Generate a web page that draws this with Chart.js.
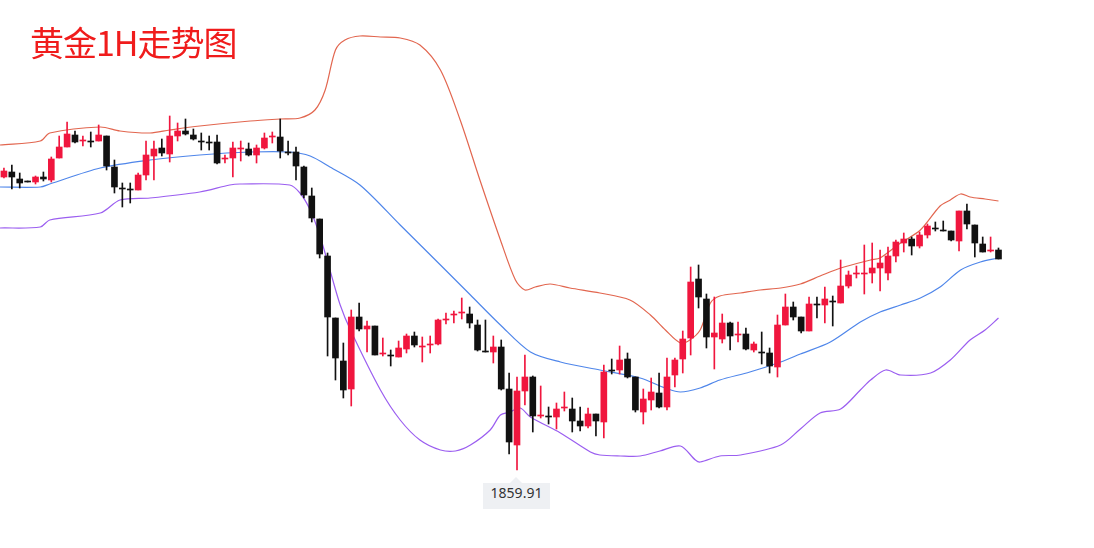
<!DOCTYPE html>
<html><head><meta charset="utf-8">
<script src="https://cdn.jsdelivr.net/npm/chart.js@4"></script>
<style>
html,body{margin:0;padding:0;background:#fff;}
#wrap{position:relative;width:1094px;height:548px;}
#title{position:absolute;left:30px;top:17px;font:34px "Noto Sans CJK SC",sans-serif;color:#f01c1c;letter-spacing:-1px;}
#lab{position:absolute;left:483px;top:483px;width:67px;height:26px;line-height:26px;text-align:center;background:#eef0f3;color:#333;font:14px "Noto Sans",sans-serif;}
#lab:before{content:"";position:absolute;left:27px;top:-6px;border-left:6px solid transparent;border-right:6px solid transparent;border-bottom:6px solid #eef0f3;}
</style></head><body>
<div id="wrap"><canvas id="c"></canvas><div id="title">黄金1H走势图</div><div id="lab">1859.91</div></div>
<script>
const open =[1889.2,1889.7,1889.0,1888.8,1888.7,1889.2,1888.9,1891.1,1892.2,1893.4,1892.8,1892.8,1892.8,1893.3,1890.2,1888.1,1888.0,1887.9,1889.4,1891.3,1892.1,1891.5,1893.3,1893.8,1893.4,1892.8,1892.7,1892.7,1891.0,1891.1,1892.0,1892.0,1891.4,1892.1,1893.2,1893.2,1891.7,1891.7,1890.2,1887.3,1885.0,1881.3,1875.1,1870.8,1868.0,1875.2,1874.0,1874.3,1871.5,1871.4,1871.2,1872.0,1873.3,1872.2,1872.4,1872.5,1874.9,1875.4,1875.6,1875.5,1874.4,1871.8,1871.7,1872.2,1868.0,1862.4,1867.8,1869.2,1865.3,1865.3,1865.2,1866.1,1866.0,1864.8,1864.3,1865.5,1864.7,1869.9,1869.9,1871.0,1869.2,1865.7,1866.9,1867.6,1866.2,1869.4,1871.0,1873.1,1879.0,1877.0,1873.2,1873.0,1874.6,1873.4,1873.5,1871.9,1871.7,1871.6,1870.2,1874.4,1876.2,1875.2,1873.8,1876.5,1876.4,1876.8,1876.6,1878.3,1879.5,1879.5,1879.6,1880.1,1879.6,1881.3,1882.6,1883.0,1882.3,1883.4,1884.1,1883.9,1883.8,1882.8,1885.8,1884.4,1882.5,1881.8,1881.9];
const high =[1890.1,1890.4,1889.6,1888.8,1889.3,1889.7,1891.2,1893.3,1894.7,1893.8,1893.3,1893.7,1894.4,1893.3,1890.9,1888.6,1888.6,1889.6,1892.8,1892.8,1893.0,1895.3,1894.6,1895.0,1894.0,1893.6,1893.3,1893.4,1891.4,1892.7,1892.8,1892.6,1892.4,1893.6,1893.7,1895.0,1892.8,1892.2,1890.3,1888.1,1885.0,1881.6,1875.1,1872.6,1875.9,1876.6,1874.8,1874.3,1873.1,1871.9,1872.8,1873.5,1873.7,1873.2,1873.3,1875.0,1875.6,1875.8,1877.1,1876.2,1874.9,1874.9,1873.3,1872.9,1869.6,1869.2,1871.4,1869.3,1868.3,1866.2,1866.6,1867.7,1867.1,1866.2,1866.1,1865.5,1870.4,1871.0,1872.3,1871.6,1869.2,1868.0,1869.1,1869.6,1871.1,1871.1,1873.8,1880.2,1880.4,1877.5,1877.2,1875.5,1874.7,1874.7,1874.1,1872.7,1873.7,1872.1,1875.4,1877.5,1876.7,1875.2,1877.2,1877.2,1878.2,1877.3,1880.9,1879.8,1880.3,1882.4,1882.6,1881.9,1882.2,1882.9,1883.6,1883.2,1883.7,1884.5,1884.7,1884.8,1883.8,1885.8,1886.5,1884.4,1883.2,1883.2,1882.1];
const low  =[1889.1,1888.0,1888.1,1888.7,1888.5,1888.8,1888.7,1891.1,1892.2,1892.6,1892.3,1892.2,1892.8,1889.9,1887.6,1886.2,1886.6,1887.9,1888.9,1888.9,1891.3,1890.7,1892.8,1893.4,1892.9,1891.9,1891.9,1890.5,1890.6,1889.2,1890.8,1891.3,1890.6,1892.0,1892.6,1891.1,1891.4,1888.9,1887.1,1884.7,1881.1,1871.3,1868.9,1867.1,1866.3,1873.8,1871.7,1871.4,1871.3,1870.3,1871.2,1871.6,1872.2,1870.7,1871.6,1872.4,1874.5,1874.6,1875.0,1874.1,1871.8,1871.7,1870.6,1867.9,1861.5,1859.91,1866.4,1863.7,1865.1,1864.5,1864.0,1865.8,1863.7,1863.8,1864.1,1863.3,1863.1,1869.5,1869.5,1869.1,1865.7,1864.5,1865.9,1866.1,1865.9,1868.2,1869.6,1871.4,1876.1,1872.1,1870.0,1872.6,1871.9,1872.7,1871.9,1871.7,1870.5,1869.6,1869.2,1874.4,1874.9,1873.6,1873.8,1875.1,1874.6,1874.3,1876.6,1878.1,1879.1,1877.5,1878.6,1877.8,1878.9,1880.7,1881.7,1881.4,1882.1,1883.1,1883.8,1883.8,1882.8,1881.8,1884.0,1881.2,1881.7,1881.7,1881.0];
const close=[1889.8,1889.2,1888.6,1888.7,1889.2,1889.0,1891.0,1892.2,1893.5,1892.7,1892.9,1892.7,1893.4,1890.3,1888.2,1888.0,1887.9,1889.4,1891.4,1892.0,1891.6,1893.3,1893.8,1893.5,1893.0,1892.7,1892.6,1890.6,1891.1,1892.1,1892.1,1891.4,1892.1,1893.1,1893.3,1891.8,1891.6,1890.3,1887.4,1885.1,1881.5,1875.2,1871.1,1867.9,1875.2,1874.0,1874.3,1871.4,1871.6,1871.3,1872.1,1873.3,1872.4,1872.3,1872.5,1874.9,1875.0,1875.5,1875.7,1874.6,1871.9,1871.7,1872.2,1868.0,1862.7,1867.8,1869.2,1865.3,1865.4,1865.2,1866.0,1866.2,1864.8,1864.3,1865.5,1864.8,1869.7,1869.8,1870.9,1869.2,1865.9,1867.0,1867.7,1866.2,1869.2,1870.9,1873.0,1878.7,1877.2,1873.2,1873.6,1874.6,1873.3,1873.5,1872.0,1872.5,1871.6,1870.3,1874.4,1876.2,1875.2,1873.8,1876.5,1876.4,1877.0,1876.7,1878.3,1879.4,1879.6,1879.6,1880.1,1880.6,1881.3,1882.7,1883.0,1882.3,1883.4,1884.3,1884.0,1883.8,1882.9,1885.8,1884.5,1882.6,1881.7,1881.9,1881.0];
const upperBand=[[-0.5,1892.4],[4.6,1892.8],[5.8,1893.6],[12.2,1894.2],[14.7,1893.8],[18.5,1893.6],[21,1893.9],[24.8,1894.3],[31.2,1894.8],[35,1895.0],[37.5,1895.1],[39.4,1895.9],[40.7,1897.9],[42,1901.9],[43.2,1902.9],[45.1,1903.3],[47.7,1903.2],[50.2,1903.1],[52.7,1902.4],[55.3,1899.9],[57.8,1894.9],[60.3,1888.9],[62.9,1882.9],[64.8,1878.9],[66,1877.9],[67.3,1878.2],[69.2,1878.5],[71.7,1878.1],[75.5,1877.6],[79.3,1876.9],[81.9,1875.4],[83.8,1873.9],[85.7,1872.6],[86.9,1872.9],[88.2,1873.9],[89.5,1876.6],[90.7,1877.3],[93.3,1877.6],[95.8,1877.9],[98.4,1878.1],[100.9,1878.5],[103.4,1879.3],[106,1880.1],[109.8,1880.9],[111,1881.1],[113.6,1882.6],[116.1,1883.9],[118.6,1886.3],[119.9,1886.9],[121.2,1887.5],[122.4,1887.2],[124.3,1887.0],[126,1886.8]];
const middleBand=[[-0.5,1888.2],[4.6,1888.2],[5.8,1888.5],[12.2,1890.1],[18.5,1890.9],[24.8,1891.4],[31.2,1891.7],[36.2,1891.7],[38.8,1891.3],[41.3,1890.2],[45.1,1888.4],[50.2,1884.4],[55.3,1880.4],[59.1,1877.4],[62.9,1874.4],[66.7,1871.7],[70.5,1870.7],[75.5,1869.9],[80.6,1869.1],[83.8,1868.1],[85.7,1867.7],[88.2,1868.1],[90.7,1868.9],[94.5,1869.7],[98.4,1870.7],[100.9,1871.5],[104.7,1872.7],[108.5,1874.7],[111,1875.7],[113.6,1876.4],[116.1,1877.1],[118.6,1878.2],[121.2,1879.9],[123.7,1880.7],[126,1881.1]];
const lowerBand=[[-0.5,1884.1],[4.6,1884.2],[5.8,1884.9],[12.2,1885.6],[14.7,1886.9],[18.5,1887.1],[24.8,1887.7],[28.6,1888.4],[29.9,1888.5],[36.2,1888.4],[37.5,1887.6],[38.8,1885.9],[40,1883.4],[41.3,1879.9],[42.6,1876.4],[43.9,1873.9],[47.7,1867.9],[50.2,1864.9],[52.7,1862.9],[55.3,1861.9],[57.2,1861.8],[59.1,1862.4],[61.6,1863.9],[62.9,1865.4],[64.1,1865.7],[65.4,1866.1],[66.7,1865.2],[70.5,1863.6],[74.3,1861.7],[75.5,1861.4],[78.1,1861.3],[80.6,1861.3],[83.1,1861.8],[85.7,1862.3],[87.6,1860.9],[88.2,1860.7],[90.7,1861.3],[93.3,1861.4],[98.4,1862.4],[100.9,1864.0],[103.4,1865.6],[106,1866.0],[108.5,1867.9],[109.8,1868.9],[111.7,1869.9],[113.6,1869.4],[117.4,1869.6],[119.9,1870.9],[122.4,1872.9],[124.3,1873.9],[126,1875.1]];

const RED='#f0163e', BLK='#111111';
const cols=open.map((o,i)=>close[i]>=o?RED:BLK);
const body=open.map((o,i)=>({x:i,y:[o,close[i]]}));
const wick=open.map((o,i)=>({x:i,y:[low[i],high[i]]}));
const pts=a=>a.map(p=>({x:p[0],y:p[1]}));
const line=(d,c)=>({type:'line',data:pts(d),borderColor:c,borderWidth:1.2,pointRadius:0,tension:0.3,fill:false});
new Chart(document.getElementById('c'),{
 type:'bar',
 data:{datasets:[
  {data:body,backgroundColor:cols,barThickness:6,grouped:false,borderSkipped:false,minBarLength:1},
  {data:wick,backgroundColor:cols,barThickness:1,grouped:false,borderSkipped:false},
  line(upperBand,'#e2664f'),line(middleBand,'#4f86ea'),line(lowerBand,'#9b5ef0')
 ]},
 options:{responsive:true,maintainAspectRatio:false,animation:false,
  layout:{padding:0},
  plugins:{legend:{display:false},tooltip:{enabled:false}},
  scales:{x:{type:'linear',min:-0.5,max:138.1,display:false,offset:false},
          y:{min:1852.1,max:1906.9,display:false}}}
});
</script></body></html>
